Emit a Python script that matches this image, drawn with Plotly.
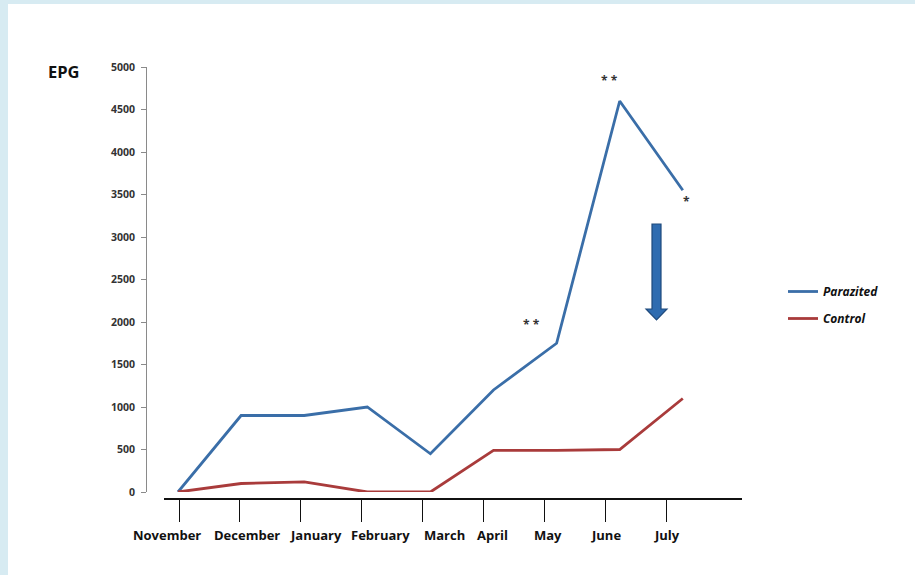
import plotly.graph_objects as go

months = ["November", "December", "January", "February", "March", "April", "May", "June", "July"]
parazited = [0, 900, 900, 1000, 450, 1200, 1750, 4600, 3550]
control = [0, 100, 120, 0, 0, 490, 490, 500, 1100]
y_ticks = [0, 500, 1000, 1500, 2000, 2500, 3000, 3500, 4000, 4500, 5000]

W, H = 915, 575
L, R, T, B = 147, 173, 67, 76
PW, PH = W - L - R, H - T - B


def px(x):
    return (x - L) / PW


def py(y):
    return (H - B - y) / PH


BLUE = "#3a6ea8"
RED = "#a93b3b"
BORDER = "#d7ebf2"
FONT = "Open Sans"
# horizontal offsets (px) of the month labels from their tick marks, as in the original
LABEL_SHIFT = [-12.5, 7, 15, 19, 22, 9, 4, 1, 1]

fig = go.Figure()
fig.add_trace(go.Scatter(x=months, y=parazited, name="Parazited", mode="lines",
                         line=dict(color=BLUE, width=2.8), legendgroup="a"))
fig.add_trace(go.Scatter(x=months, y=control, name="Control", mode="lines",
                         line=dict(color=RED, width=2.8), legendgroup="b"))
fig.add_trace(go.Scatter(x=months, y=[None] * len(months), xaxis="x2", yaxis="y",
                         showlegend=False, hoverinfo="skip"))

# data axis: Nov at px 178, spacing 63.1
d0 = (L - 178) / 63.1
d1 = d0 + PW / 63.1
# tick axis: domain starts at px 164, Nov tick at 179, spacing 60.9
t_dom0 = (164 - L) / PW
t0 = (164 - 179) / 60.9
t1 = t0 + (W - R - 164) / 60.9

fig.update_layout(
    width=W, height=H,
    margin=dict(l=L, r=R, t=T, b=B, pad=0),
    paper_bgcolor="white",
    plot_bgcolor="rgba(0,0,0,0)",
    showlegend=True,
    legend=dict(x=px(783), y=py(277), xanchor="left", yanchor="top",
                bgcolor="rgba(0,0,0,0)", traceorder="grouped", tracegroupgap=8,
                font=dict(family=FONT, size=12, color="#111", weight="bold", style="italic")),
    xaxis=dict(type="category", range=[d0, d1], visible=False, showgrid=False,
               categoryorder="array", categoryarray=months),
    xaxis2=dict(type="category", range=[t0, t1], domain=[t_dom0, 1], anchor="free",
                position=0, showgrid=False, zeroline=False,
                categoryorder="array", categoryarray=months,
                showline=True, linecolor="#111", linewidth=2,
                ticks="outside", ticklen=22, tickwidth=1.2, tickcolor="#111",
                showticklabels=False),
    yaxis=dict(range=[0, 5000], domain=[py(492), 1], anchor="x",
               tickvals=y_ticks, showgrid=False, zeroline=False,
               showline=True, linecolor="#8a8a8a", linewidth=1,
               ticks="outside", ticklen=5, tickcolor="#8a8a8a", ticklabelstandoff=4,
               tickfont=dict(family=FONT, size=10.5, color="#333", weight="bold")),
    font=dict(family=FONT),
)

# month labels under the tick marks
for m, s in zip(months, LABEL_SHIFT):
    fig.add_annotation(x=m, xref="x2", yref="paper", y=py(535), text=f"<b>{m}</b>",
                       showarrow=False, xshift=s, xanchor="center", yanchor="middle",
                       font=dict(family=FONT, size=13, color="#111"))

# light-blue border on the left and top
fig.add_shape(type="rect", xref="paper", yref="paper", layer="below",
              x0=px(-5), x1=px(8), y0=py(H + 5), y1=py(-5),
              fillcolor=BORDER, line=dict(width=0))
fig.add_shape(type="rect", xref="paper", yref="paper", layer="below",
              x0=px(-5), x1=px(W + 5), y0=py(4), y1=py(-5),
              fillcolor=BORDER, line=dict(width=0))

# EPG label
fig.add_annotation(xref="paper", yref="paper", x=px(64), y=py(71), text="<b>EPG</b>",
                   showarrow=False, xanchor="center", yanchor="middle",
                   font=dict(family=FONT, size=16.5, color="#111"))

# significance stars
stars = [("May", parazited[6], "* *", -25, 19),
         ("June", parazited[7], "* *", -10, 21),
         ("July", parazited[8], "*", 4, -11)]
for xm, yv, txt, xs, ys in stars:
    fig.add_annotation(x=xm, y=yv, text=f"<b>{txt}</b>", showarrow=False, xshift=xs, yshift=ys,
                       font=dict(family=FONT, size=12, color="#333"))

# thick down arrow
ax, top, hb, tip = 656.5, 224, 309, 320
sw, hw = 4.5, 10.5
path = (f"M {px(ax - sw)} {py(top)} L {px(ax + sw)} {py(top)} L {px(ax + sw)} {py(hb)} "
        f"L {px(ax + hw)} {py(hb)} L {px(ax)} {py(tip)} L {px(ax - hw)} {py(hb)} "
        f"L {px(ax - sw)} {py(hb)} Z")
fig.add_shape(type="path", xref="paper", yref="paper", path=path,
              fillcolor="#2f6cb0", line=dict(color="#1f4a7c", width=1.2))

fig.write_html("out.html")
